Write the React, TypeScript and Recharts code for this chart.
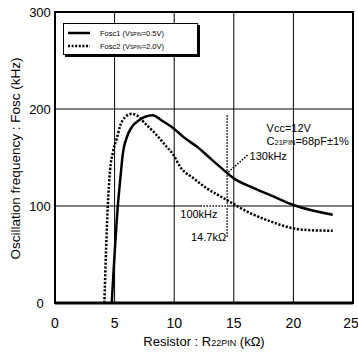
import React from 'react';
import {
    LineChart,
    Line,
    XAxis,
    YAxis,
    CartesianGrid,
    Legend,
    ReferenceArea,
    ReferenceLine,
    ReferenceDot,
} from 'recharts';

// Fosc1 (VSPIN=0.5V)
const fosc1R = [4.76, 5.27, 5.55, 5.66, 6.03, 6.45, 7.0, 7.57, 8.18, 8.97, 9.95, 10.79, 11.92, 13.04, 14.16, 15.0, 16.4, 18.1, 20.0, 23.3];
const fosc1F = [0, 100, 137, 151, 171, 181.5, 188, 192, 193.5, 188, 180, 171, 161, 149, 137, 128.5, 120, 111, 101, 91];

// Fosc2 (VSPIN=2.0V)
const fosc2R = [4.14, 4.43, 4.62, 4.85, 5.19, 5.46, 5.88, 6.45, 6.87, 7.57, 8.41, 9.25, 9.95, 10.5, 11.63, 12.76, 14.16, 16.4, 18.1, 20.0, 21.46, 23.3];
const fosc2F = [0, 100, 137, 155, 170, 182.5, 191.5, 195, 193.5, 185, 174.7, 162.7, 152.4, 140.4, 128.5, 118, 108, 92.5, 84, 77, 75, 74.5];

const xTicks = [0, 5, 10, 15, 20, 25];
const yTicks = [0, 100, 200, 300];

// marker for the 14.7kΩ reading (placed where the picture draws it)
const markR = 14.44;
const markF1 = 130;
const markF2 = 100;

const font = '"Liberation Sans", Arial, sans-serif';

const series1 = fosc1R.map((r, i) => ({ r, f: fosc1F[i] }));
const series2 = fosc2R.map((r, i) => ({ r, f: fosc2F[i] }));

function LegendBox() {
    return (
        <svg width={140} height={36} style={{ display: 'block' }}>
            <rect x={2} y={2} width={135} height={32} fill="#000" />
            <rect x={0.5} y={0.5} width={134} height={31} fill="#fff" stroke="#000" strokeWidth={1} />
            <line x1={5} y1={10} x2={27} y2={10} stroke="#000" strokeWidth={2.5} />
            <line x1={5} y1={23} x2={27} y2={23} stroke="#000" strokeWidth={2.5} strokeDasharray="2 1.6" />
            <text x={37} y={13} fontSize={7.5} fontFamily={font}>
                Fosc1 (V<tspan fontSize={5}>SPIN</tspan>=0.5V)
            </text>
            <text x={37} y={26} fontSize={7.5} fontFamily={font}>
                Fosc2 (V<tspan fontSize={5}>SPIN</tspan>=2.0V)
            </text>
        </svg>
    );
}

function note(content: React.ReactNode) {
    return (p: any) => (
        <text x={p.cx} y={p.cy} fontSize={11} fontFamily={font} fill="#000">
            {content}
        </text>
    );
}

export default function App() {
    return (
        <div style={{ position: 'absolute', left: 0, top: 0, width: 358, height: 356, background: '#fff' }}>
            <LineChart
                width={358}
                height={356}
                margin={{ top: 12, right: 5, left: 0, bottom: 0 }}
                style={{ fontFamily: font }}
            >
                <CartesianGrid stroke="#000" strokeWidth={1} horizontal vertical />
                <XAxis
                    type="number"
                    dataKey="r"
                    domain={[0, 25]}
                    ticks={xTicks}
                    height={53}
                    tickLine={false}
                    tickMargin={9}
                    axisLine={{ stroke: '#000', strokeWidth: 3 }}
                    tick={{ fontSize: 14, fill: '#000' }}
                    allowDataOverflow
                    label={{
                        content: (p: any) => {
                            const vb = p.viewBox;
                            return (
                                <text x={vb.x + vb.width / 2} y={vb.y + 43} textAnchor="middle" fontSize={13} fontFamily={font} fill="#000">
                                    Resistor : R<tspan fontSize={9}>22PIN</tspan> (kΩ)
                                </text>
                            );
                        },
                    }}
                />
                <YAxis
                    type="number"
                    domain={[0, 300]}
                    ticks={yTicks}
                    width={55}
                    tickLine={false}
                    axisLine={{ stroke: '#000', strokeWidth: 2 }}
                    tick={{ fontSize: 13, fill: '#000', textAnchor: 'middle', dx: -7 }}
                    allowDataOverflow
                    label={{
                        content: (p: any) => {
                            const vb = p.viewBox;
                            const cx = 20;
                            const cy = vb.y + vb.height / 2 + 1;
                            return (
                                <text x={cx} y={cy} transform={`rotate(-90 ${cx} ${cy})`} textAnchor="middle" fontSize={13.5} fontFamily={font} fill="#000">
                                    Oscillation frequency : Fosc (kHz)
                                </text>
                            );
                        },
                    }}
                />
                <Legend
                    layout="horizontal"
                    verticalAlign="middle"
                    align="center"
                    wrapperStyle={{ position: 'absolute', left: 63, top: 23, width: 140, height: 36 }}
                    content={() => <LegendBox />}
                />
                <ReferenceLine
                    segment={[{ x: markR, y: 193.5 }, { x: markR, y: 68 }]}
                    stroke="#000"
                    strokeWidth={1.5}
                    strokeDasharray="1.5 1.5"
                />
                <ReferenceLine
                    segment={[{ x: 12.2, y: markF2 }, { x: markR, y: markF2 }]}
                    stroke="#fff"
                    strokeWidth={2}
                />
                <ReferenceLine
                    segment={[{ x: 12.2, y: markF2 }, { x: markR, y: markF2 }]}
                    stroke="#000"
                    strokeWidth={1.5}
                    strokeDasharray="1.5 1.5"
                />
                <ReferenceLine
                    segment={[{ x: 14.55, y: 135 }, { x: 16.15, y: 152.4 }]}
                    stroke="#000"
                    strokeWidth={1.5}
                    strokeDasharray="1.5 1.5"
                />
                <Line
                    data={series1}
                    dataKey="f"
                    type="monotone"
                    stroke="#000"
                    strokeWidth={2.5}
                    dot={false}
                    isAnimationActive={false}
                />
                <Line
                    data={series2}
                    dataKey="f"
                    type="monotone"
                    stroke="#000"
                    strokeWidth={2.5}
                    strokeDasharray="2.2 1.6"
                    dot={false}
                    isAnimationActive={false}
                />
                <ReferenceArea x1={0} x2={25} y1={0} y2={300} fill="none" stroke="#000" strokeWidth={2} />
                <ReferenceDot x={17.75} y={176} r={0} shape={note('Vcc=12V')} />
                <ReferenceDot
                    x={17.75}
                    y={162.6}
                    r={0}
                    shape={note(
                        <>
                            C<tspan fontSize={7.5}>21PIN</tspan>=68pF±1%
                        </>
                    )}
                />
                <ReferenceDot x={16.32} y={147.3} r={0} shape={note(`${markF1}kHz`)} />
                <ReferenceDot x={10.51} y={88} r={0} shape={note(`${markF2}kHz`)} />
                <ReferenceDot x={11.41} y={64} r={0} shape={note('14.7kΩ')} />
            </LineChart>
        </div>
    );
}
